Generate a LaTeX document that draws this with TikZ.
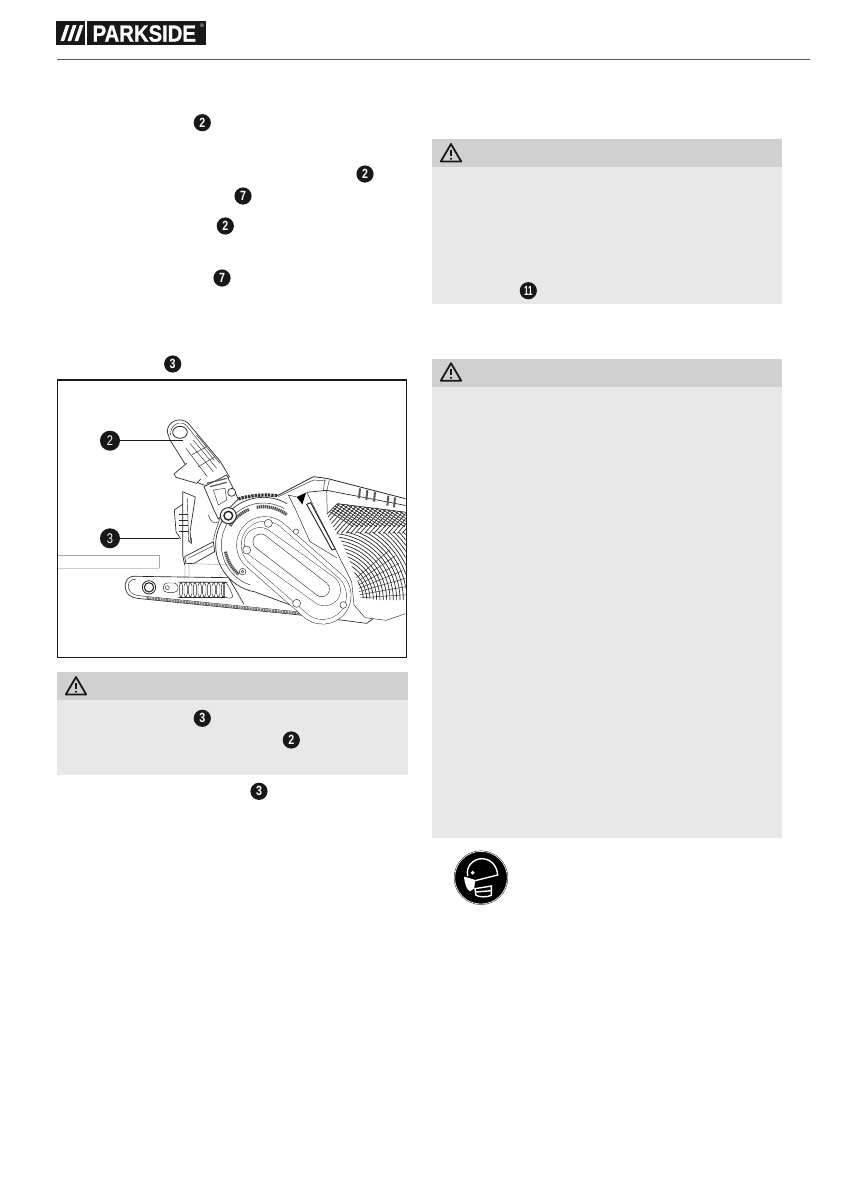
\documentclass[tikz,border=0pt]{standalone}
\usepackage{fontspec}
\setmainfont{Liberation Sans}
\newfontfamily\narrowfont[FakeStretch=0.8]{Liberation Sans}
\newfontfamily\tightfont[FakeStretch=0.6]{Liberation Sans}
\newfontfamily\logofont[FakeStretch=0.87,FakeBold=1]{Liberation Sans}
\definecolor{LBar}{rgb}{0.816,0.816,0.816}
\definecolor{LBody}{rgb}{0.91,0.91,0.91}
\definecolor{LInk}{rgb}{0.1,0.09,0.09}
\tikzset{
  badge/.style={circle,fill=LInk,text=white,inner sep=0pt,minimum size=12.9pt,
    font=\narrowfont\bfseries\fontsize{10}{10}\selectfont},
  bigbadge/.style={circle,fill=LInk,text=white,inner sep=0pt,minimum size=15pt,
    font=\narrowfont\fontsize{10.5}{10.5}\selectfont},
  mline/.style={line width=.33pt,draw=black!85},
  warnsign/.pic={
    \draw[line width=1.35pt,LInk,line join=round] (0,-17.5) -- (-10.2,0) -- (10.2,0) -- cycle;
    \draw[line width=1.2pt,LInk] (0,-12) -- (0,-5.5);
    \fill[LInk] (0,-2.8) circle (1.2);
  }
}
\begin{document}
\begin{tikzpicture}[x=.75pt,y=-.75pt]
\useasboundingbox (0,0) rectangle (840,1192);

% header
\fill[LInk] (56,21) rectangle (85,45);
\fill[LInk] (87,21) rectangle (206,45);
\foreach \sx in {60.5,67.5,74.5}
  \fill[white] (\sx,41) -- (\sx+3.6,41) -- (\sx+9,25) -- (\sx+5.4,25) -- cycle;
\node[text=white,inner sep=0pt,anchor=base west,font=\logofont\bfseries\fontsize{17.5}{17.5}\selectfont] (logo) at (92.3,41.6) {PARKSIDE};
\node[text=white,inner sep=0pt,font=\fontsize{4}{4}\selectfont] (reg) at (202,26) {®};
\draw[line width=.8pt,black!65] (57,59.4) -- (810,59.4);

% grey boxes
\fill[LBody] (57.3,700) rectangle (408,775);
\fill[LBar] (57.3,672.3) rectangle (408,700);
\fill[LBody] (432.3,166.7) rectangle (781.7,303.7);
\fill[LBar] (432.3,139) rectangle (781.7,166.7);
\fill[LBody] (432.3,386.7) rectangle (781.7,837.7);
\fill[LBar] (432.3,359) rectangle (781.7,386.7);
\pic at (76,694.5) {warnsign};
\pic at (451,161.5) {warnsign};
\pic at (451,380.7) {warnsign};

% badges in the text
\node[badge] (a) at (202.3,122.7) {2};
\node[badge] (b) at (365,174) {2};
\node[badge] (c) at (243,196) {7};
\node[badge] (d) at (225.3,226) {2};
\node[badge] (e) at (222,278) {7};
\node[badge] (f) at (172.7,364) {3};
\node[badge] (g) at (202.3,718.3) {3};
\node[badge] (h) at (291.3,740) {2};
\node[badge] (i) at (259,791.3) {3};
\node[badge,font=\tightfont\bfseries\fontsize{10}{10}\selectfont] (j) at (528.3,290.7) {11};

% figure
\draw[line width=.85pt,LInk] (57.3,380) rectangle (406.3,657.7);
\begin{scope}[shift={(50,375)},x=.25pt,y=-.25pt]
\clip (24,20) rectangle (1067,845);

% workpiece
\draw[line width=.7pt,black!35] (24,541) -- (328,541) -- (328,579);
\draw[line width=.7pt,black!20] (328,579) -- (24,579);
\draw[line width=.5pt,black!25] (405,570) -- (405,612) (417,570) -- (417,612) (430,566) -- (540,570);

% base plate
\draw[mline,line width=.5pt] (262,604) -- (536,608) -- (582,688) (262,604) .. controls (232,600) and (222,622) .. (226,640) .. controls (230,660) and (245,668) .. (262,670) -- (770,722) -- (950,745) -- (968,732);
\draw[mline] (258,612) .. controls (238,612) and (232,628) .. (236,640) .. controls (240,654) and (250,660) .. (266,662) -- (770,713);
\draw[black!55,line width=1.6pt,dash pattern=on 1.5pt off .6pt] (290,669) -- (770,718);
\draw[mline,line width=.6pt] (297,637) circle (20);
\draw[mline,line width=.8pt] (297,637) circle (14);
\draw[mline,rounded corners=3] (340,624) rectangle (384,652);
\draw[mline] (352,638) circle (6);
\foreach \rx in {388,402,...,514}
  \draw[mline,rounded corners=3] (\rx,621) rectangle (\rx+10,668);
\draw[mline,rounded corners=3] (520,621) -- (530,621) -- (552,670) -- (520,668) -- cycle;

% main housing
\draw[mline,line width=.5pt] (640,510) ++(-60:143) arc[start angle=-60,end angle=-260,radius=143] -- (770,708);
\draw[mline] (640,510) ++(-60:126) arc[start angle=-60,end angle=-252,radius=126];
\draw[mline] (510,430) -- (496,470) -- (490,495);

% belt cover
\draw[line cap=round,line width=43pt,black!85] (645,510) -- (818,662);
\draw[line cap=round,line width=42.3pt,white] (645,510) -- (818,662);
\draw[line cap=round,line width=36pt,black!85] (645,510) -- (818,662);
\draw[line cap=round,line width=35.4pt,white] (645,510) -- (818,662);
\draw[line cap=round,line width=24pt,black!85] (630,505) -- (824,645);
\draw[line cap=round,line width=23.4pt,white] (630,505) -- (824,645);
\draw[line cap=round,line width=12pt,black!85] (632,500) -- (815,642);
\draw[line cap=round,line width=11.2pt,white] (632,500) -- (815,642);
\foreach \hx/\hy/\hr in {655/445/12,590/525/12,578/590/10,578/590/4,740/685/12,880/690/10,738/470/8}
  \draw[mline,fill=white] (\hx,\hy) circle (\hr);

% grip arcs
\foreach \ga/\gb in {-150/-112,-100/-52,170/130}
  \draw[black!70,line width=2.4pt,dash pattern=on 1pt off .5pt] (640,510) ++(\ga:115) arc[start angle=\ga,end angle=\gb,radius=115];

% adjusting lever
\draw[mline,line width=.5pt,fill=white] (352,172) .. controls (350,140) and (390,122) .. (415,145) -- (510,258) -- (538,305) -- (505,335) -- (462,330) -- (440,322) -- (360,195) -- cycle;
\draw[mline,line width=.6pt] (390,172) ellipse (22 and 18);
\draw[mline] (362,180) .. controls (358,150) and (395,130) .. (412,155) -- (492,255);
\draw[mline] (420,205) -- (490,290) (408,220) -- (472,305) (440,180) -- (510,265) (430,195) -- (500,280);
\draw[mline] (425,240) -- (470,215) (445,275) -- (495,245);
\draw[mline,line width=.5pt,fill=white] (410,265) -- (372,297) -- (378,307) -- (440,325) -- (452,312);
\draw[mline,line width=.5pt,fill=white] (462,335) -- (492,405) -- (505,432) -- (565,372) -- (530,300) -- cycle;
\draw[mline] (490,345) -- (525,340) -- (530,375) -- (505,390) -- cycle;
\draw[mline] (475,420) .. controls (480,440) and (495,450) .. (505,440);
\draw[mline,line width=.9pt,black!65] (470,325) -- (530,310) (480,335) -- (530,322);
\draw[mline,line width=.5pt,fill=white] (545,352) circle (12);
\draw[mline,line width=.7pt,fill=white] (535,422) circle (24);
\draw[mline,line width=1.1pt,fill=white] (535,422) circle (13);

% clamp lever
\draw[mline,line width=.5pt] (398,350) -- (436,366) -- (420,470) -- (424,505) (398,350) -- (398,540) -- (404,570);
\draw[mline,line width=.5pt] (398,388) -- (373,405) -- (378,470) -- (392,492);
\foreach \ly in {418,435,452,470}
  \draw[mline] (388,\ly) -- (415,\ly);
\draw[mline] (412,370) -- (416,500);
\draw[mline,line width=.5pt] (404,545) -- (490,500) -- (494,530) -- (432,565) -- (408,566) -- cycle;
\draw[mline] (415,550) -- (490,512);
\draw[mline] (418,500) -- (424,490) -- (424,505) -- cycle;

% chain
\draw[black!80,line width=2.4pt,dash pattern=on 1.8pt off .7pt] (565,372) .. controls (600,360) and (650,358) .. (682,362);

% motor top
\draw[mline,line width=.6pt] (682,362) -- (790,305) -- (830,310) -- (1070,372);
\draw[mline] (685,365) -- (790,315) -- (830,318);
\draw[mline] (825,312) -- (820,348) (838,315) -- (830,348);
\draw[mline,line width=.5pt] (770,352) -- (830,346) -- (1070,392);
\foreach \bx/\by in {930/340,952/345,975/350,1015/362,1035/367}
  \draw[black!65,line width=1.5pt] (\bx,\by) -- (\bx-3,\by+30);
\fill[black] (740,366) -- (768,353) -- (757,388) -- cycle;
\draw[mline] (740,366) -- (715,360) -- (735,400);
\draw[mline] (770,352) -- (880,570) -- (905,620) -- (912,690) -- (945,728) -- (1008,736) -- (1070,715);
\draw[mline,line width=.7pt] (770,388) -- (846,525) -- (856,522) -- (782,383) -- cycle;
\draw[mline] (830,348) -- (832,420) (735,400) -- (780,500) -- (860,548);

% vents
\begin{scope}
\clip (830,418) -- (862,386) -- (1070,412) -- (1070,672) -- (1030,682) -- (930,668) -- (924,620) -- (880,512) -- cycle;
\foreach \vr in {100,110,...,320}
  \draw[mline,line width=.5pt] (840,675) ++(-90:\vr) arc[start angle=-90,end angle=0,radius=\vr];
\foreach \va in {-40,-34,...,-2}
  \draw[mline] (840,675) ++(\va:85) -- ++(\va:150);
\begin{scope}
\clip (830,380) rectangle (1070,480);
\fill[white] (830,380) rectangle (1070,470);
\foreach \dx in {800,814,...,1190}
  \draw[mline,line width=.5pt] (\dx,385) -- ++(-80,90) (\dx,385) -- ++(110,70);
\end{scope}
\end{scope}
\draw[mline,line width=.5pt] (830,418) -- (862,386) -- (1070,412);

\end{scope}

% callouts
\node[bigbadge] (p2) at (110,440.7) {2};
\node[bigbadge] (p3) at (110,538.3) {3};
\coordinate (q2) at (183,440.7);
\coordinate (q3) at (179,538.3);
\draw[line width=.6pt,LInk] (p2) -- (q2);
\draw[line width=.6pt,LInk] (p3) -- (q3);

% mask sign
\node[circle,fill=black,draw=black,double=white,double distance=.5pt,line width=.3pt,inner sep=0pt,minimum size=39.5pt] (masksign) at (481,877.7) {};
\begin{scope}[shift={(425,820)},x=.25pt,y=-.25pt]
\draw[white,line width=1.05pt] (128,168) .. controls (122,138) and (145,117) .. (170,116) .. controls (198,116) and (216,138) .. (218,165) -- (150,182) -- (118,172);
\fill[white] (117,172) -- (150,182) -- (148,205) -- (135,214) .. controls (125,208) and (120,195) .. (117,172) -- cycle;
\fill[white] (143,152) -- (149,158) -- (143,164) -- (137,158) -- cycle;
\draw[white,line width=1.05pt] (150,206) -- (199,198) -- (199,226) .. controls (185,232) and (165,232) .. (153,226) -- cycle;
\draw[white,line width=1.05pt] (152,216) -- (199,212);
\end{scope}

\end{tikzpicture}
\end{document}
